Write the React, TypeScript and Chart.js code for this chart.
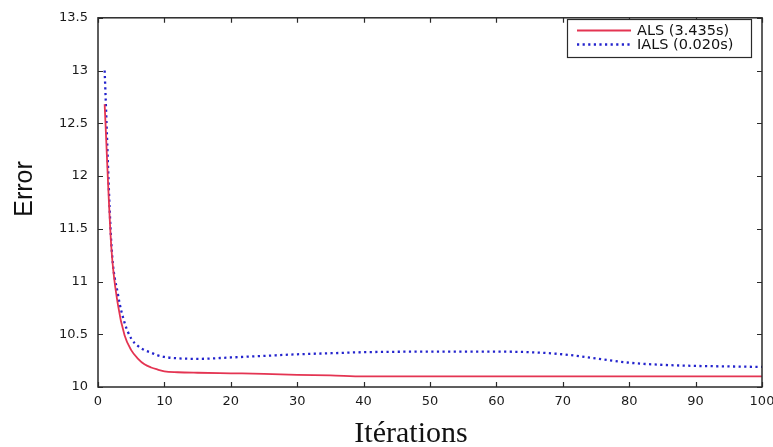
import React, { useEffect, useRef } from "react";
import { Chart, registerables } from "chart.js";

Chart.register(...registerables);

// ---- Data ----
const iterations = [1, 2, 3, 4, 5, 6, 7, 8, 9, 10, 12, 15, 20, 25, 30, 35, 40, 50, 60, 65, 70, 75, 80, 85, 90, 95, 100];
const alsError = [12.68, 11.33, 10.78, 10.49, 10.35, 10.27, 10.215, 10.185, 10.165, 10.148, 10.14, 10.135, 10.13, 10.125, 10.115, 10.11, 10.1, 10.1, 10.1, 10.1, 10.1, 10.1, 10.1, 10.1, 10.1, 10.1, 10.1];
const ialsError = [13.0, 11.37, 10.88, 10.61, 10.46, 10.39, 10.35, 10.325, 10.3, 10.285, 10.272, 10.267, 10.28, 10.295, 10.31, 10.32, 10.33, 10.335, 10.335, 10.33, 10.31, 10.27, 10.23, 10.21, 10.2, 10.195, 10.19];

const seriesLabels = ["ALS (3.435s)", "IALS (0.020s)"];
const xTitle = "Itérations";
const yTitle = "Error";
const xRange = { min: 0, max: 100, step: 10 };
const yRange = { min: 10, max: 13.5, step: 0.5 };

const RED = "rgb(228, 52, 82)";
const BLUE = "rgb(36, 36, 205)";

const decorPlugin = {
  id: "decor",
  afterDraw(chart: any) {
    const { ctx, chartArea: a, scales } = chart;
    ctx.save();
    // frame
    ctx.strokeStyle = "#2a2a2a";
    ctx.lineWidth = 1.5;
    ctx.setLineDash([]);
    ctx.strokeRect(a.left, a.top, a.right - a.left, a.bottom - a.top);
    // inward ticks
    ctx.lineWidth = 1.2;
    const tl = 5;
    ctx.beginPath();
    for (const t of scales.x.ticks) {
      const px = Math.round(scales.x.getPixelForValue(t.value)) + 0.5;
      ctx.moveTo(px, a.bottom);
      ctx.lineTo(px, a.bottom - tl);
      ctx.moveTo(px, a.top);
      ctx.lineTo(px, a.top + tl);
    }
    for (const t of scales.y.ticks) {
      const py = Math.round(scales.y.getPixelForValue(t.value)) + 0.5;
      ctx.moveTo(a.left, py);
      ctx.lineTo(a.left + tl, py);
      ctx.moveTo(a.right, py);
      ctx.lineTo(a.right - tl, py);
    }
    ctx.stroke();

    // legend box
    const bx = 567, by = 19, bw = 184, bh = 38;
    ctx.fillStyle = "#ffffff";
    ctx.fillRect(bx, by, bw, bh);
    ctx.strokeStyle = "#2a2a2a";
    ctx.lineWidth = 1.2;
    ctx.strokeRect(bx + 0.5, by + 0.5, bw, bh);
    chart.data.datasets.forEach((ds: any, i: number) => {
      const y = by + 11.5 + i * 14;
      ctx.strokeStyle = ds.borderColor;
      ctx.lineWidth = ds.borderWidth;
      ctx.setLineDash(ds.borderDash || []);
      ctx.beginPath();
      ctx.moveTo(bx + 10, y);
      ctx.lineTo(bx + 64, y);
      ctx.stroke();
      ctx.setLineDash([]);
      ctx.fillStyle = "#111111";
      ctx.font = '14.5px "DejaVu Sans"';
      ctx.textAlign = "left";
      ctx.textBaseline = "middle";
      ctx.fillText(ds.label, bx + 70, y + 0.5);
    });

    // axis titles
    ctx.fillStyle = "#111111";
    ctx.font = '30px "Liberation Serif"';
    ctx.textAlign = "center";
    ctx.textBaseline = "alphabetic";
    ctx.fillText(xTitle, 411, 442);

    ctx.save();
    ctx.translate(32, 189);
    ctx.rotate(-Math.PI / 2);
    ctx.font = '25px "Liberation Sans"';
    ctx.textAlign = "center";
    ctx.textBaseline = "alphabetic";
    ctx.fillText(yTitle, 0, 0);
    ctx.restore();

    ctx.restore();
  },
};

export default function App() {
  const ref = useRef<HTMLCanvasElement | null>(null);

  useEffect(() => {
    if (!ref.current) return;
    const chart = new Chart(ref.current, {
      type: "line",
      data: {
        datasets: [
          {
            label: seriesLabels[0],
            data: iterations.map((x, i) => ({ x, y: alsError[i] })),
            borderColor: RED,
            borderWidth: 1.8,
            pointRadius: 0,
            cubicInterpolationMode: "monotone",
            fill: false,
          },
          {
            label: seriesLabels[1],
            data: iterations.map((x, i) => ({ x, y: ialsError[i] })),
            borderColor: BLUE,
            borderWidth: 2.3,
            borderDash: [2.2, 3.4],
            pointRadius: 0,
            cubicInterpolationMode: "monotone",
            fill: false,
          },
        ],
      },
      options: {
        responsive: false,
        maintainAspectRatio: false,
        animation: false,
        layout: { padding: { top: 14, right: 38, bottom: 0, left: 0 } },
        plugins: {
          legend: { display: false },
          tooltip: { enabled: false },
          title: { display: false },
        },
        scales: {
          x: {
            type: "linear",
            min: xRange.min,
            max: xRange.max,
            grid: { display: false, drawTicks: false },
            border: { display: false },
            ticks: {
              stepSize: xRange.step,
              padding: 7,
              color: "#1a1a1a",
              font: { family: "DejaVu Sans", size: 13 },
              maxRotation: 0,
              callback: (v: any) => String(v),
            },
            afterFit: (s: any) => {
              s.height = 60;
            },
          },
          y: {
            type: "linear",
            min: yRange.min,
            max: yRange.max,
            grid: { display: false, drawTicks: false },
            border: { display: false },
            ticks: {
              stepSize: yRange.step,
              padding: 10,
              color: "#1a1a1a",
              font: { family: "DejaVu Sans", size: 13 },
              callback: (v: any) => String(v),
            },
            afterFit: (s: any) => {
              s.width = 98;
            },
          },
        },
      },
      plugins: [decorPlugin],
    });
    return () => chart.destroy();
  }, []);

  return (
    <div
      style={{
        position: "fixed",
        left: 0,
        top: 0,
        width: 773,
        height: 447,
        overflow: "hidden",
        background: "#fff",
      }}
    >
      <canvas ref={ref} width={800} height={447} style={{ display: "block" }} />
    </div>
  );
}
